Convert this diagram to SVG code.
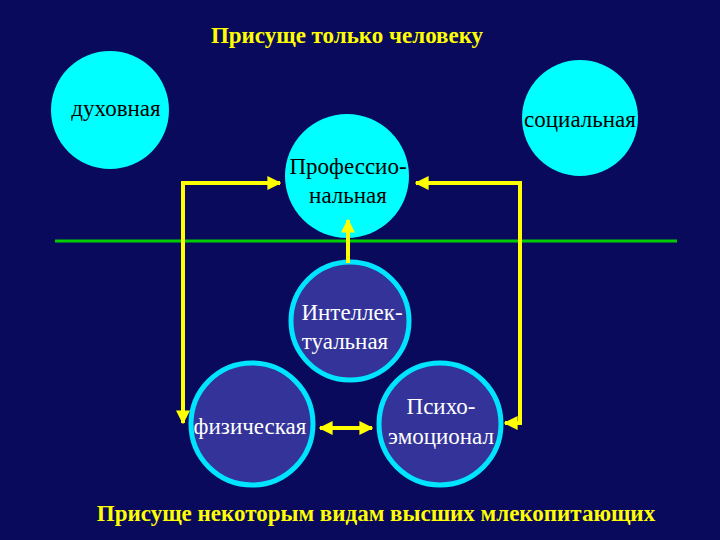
<svg xmlns="http://www.w3.org/2000/svg" width="720" height="540" viewBox="0 0 720 540">
<defs>
<marker id="ah" viewBox="0 0 10 10" refX="9" refY="5" markerWidth="3.5" markerHeight="3.5" orient="auto-start-reverse" markerUnits="strokeWidth"><path d="M0,0 L10,5 L0,10 Z" fill="#ffff00"/></marker>
</defs>
<style>
.top{fill:#00ffff}
.bot{fill:#333399;stroke:#00e5ff;stroke-width:5}
.tk{font-family:"Liberation Serif",serif;font-size:23px;fill:#000000;text-anchor:middle}
.tw{font-family:"Liberation Serif",serif;font-size:23px;fill:#ffffff;text-anchor:middle}
.hd{font-family:"Liberation Serif",serif;font-size:23px;font-weight:bold;fill:#ffff00;text-anchor:middle}
.c{stroke:#ffff00;stroke-width:4;fill:none}
</style>
<rect width="720" height="540" fill="#0a0a5c"/>
<text class="hd" x="347" y="43">Присуще только человеку</text>
<text class="hd" x="376" y="521">Присуще некоторым видам высших млекопитающих</text>
<line x1="55" y1="241" x2="677" y2="241" stroke="#00cc00" stroke-width="3"/>
<g id="dukh"><circle class="top" cx="110" cy="110" r="59"/><text class="tk" x="116" y="116">духовная</text></g>
<g id="soc"><circle class="top" cx="580" cy="118" r="58"/><text class="tk" x="580" y="127">социальная</text></g>
<g id="prof"><circle class="top" cx="347" cy="176" r="62"/><text class="tk" x="348" y="174">Профессио-</text><text class="tk" x="348" y="203">нальная</text></g>
<g id="intel"><circle class="bot" cx="350" cy="321" r="59"/><text class="tw" x="352" y="320">Интеллек-</text><text class="tw" x="345" y="349">туальная</text></g>
<g id="fiz"><circle class="bot" cx="252" cy="424" r="61"/><text class="tw" x="250" y="434">физическая</text></g>
<g id="psy"><circle class="bot" cx="440" cy="424" r="61"/><text class="tw" x="441" y="414">Психо-</text><text class="tw" x="441" y="444">эмоционал</text></g>
<g id="connectors">
<polyline class="c" points="280,183 183,183 183,423" marker-start="url(#ah)" marker-end="url(#ah)"/>
<polyline class="c" points="416,183 520,183 520,423 505,423" marker-start="url(#ah)" marker-end="url(#ah)"/>
<line class="c" x1="348" y1="263" x2="348" y2="220" marker-end="url(#ah)"/>
<line class="c" x1="320" y1="428" x2="372" y2="428" marker-start="url(#ah)" marker-end="url(#ah)"/>
</g>
</svg>
